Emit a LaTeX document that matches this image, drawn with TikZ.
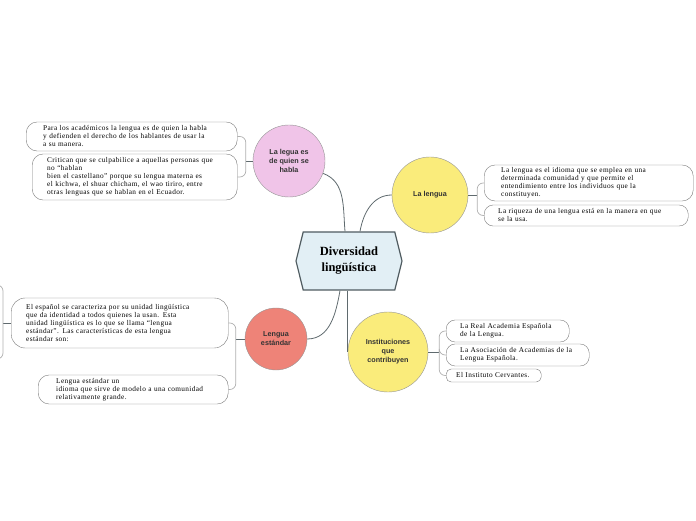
\documentclass[tikz,border=0pt]{standalone}
\usepackage{fontspec}
\setmainfont{Liberation Serif}
\setsansfont{Liberation Sans}
\newfontfamily\leaffont{Liberation Serif}[LetterSpace=5]
\usetikzlibrary{shapes.symbols}
\definecolor{hexfill}{HTML}{E2EFF5}
\definecolor{hexline}{HTML}{4F5B60}
\definecolor{pinkfill}{HTML}{F0C4E8}
\definecolor{yellowfill}{HTML}{FAEC7B}
\definecolor{salmonfill}{HTML}{EE8378}
\definecolor{linkgray}{HTML}{5F6A6E}
\definecolor{boxgray}{HTML}{7A7A7A}
\tikzset{
  topic/.style={circle, draw=boxgray!80, fill=#1, align=center, text=black!80,
    font=\sffamily\bfseries\fontsize{7.2}{9}\selectfont, inner sep=0pt},
  leaf/.style={draw=boxgray, fill=white, rounded corners=11pt, align=left, anchor=west,
    font=\leaffont\fontsize{7.3}{8}\selectfont, inner ysep=1pt},
  link/.style={draw=linkgray, line width=0.8pt},
  fork/.style={draw=boxgray!60, line width=0.7pt, rounded corners=6pt}
}
\begin{document}
\begin{tikzpicture}[x=1pt,y=1pt]
  \useasboundingbox (0,0) rectangle (696,520);

  % centre
  \node (hex) [shape=signal, signal to=west and east, signal pointer angle=152,
    draw=hexline, line width=1.2pt, fill=hexfill, minimum width=106pt, minimum height=58pt,
    align=center, font=\bfseries\fontsize{12.5}{16}\selectfont] at (349,259) {Diversidad\\lingüística};

  % main topics
  \node (habla) [topic=pinkfill, minimum size=72pt] at (289,359) {La legua es\\de quien se\\habla};
  \node (lengua) [topic=yellowfill, minimum size=76pt] at (430,325) {La lengua};
  \node (estandar) [topic=salmonfill, minimum size=62pt] at (276,181) {Lengua\\ estándar};
  \node (inst) [topic=yellowfill, minimum size=80pt] at (388,168) {Instituciones\\que\\contribuyen};

  \draw[link] (habla.-20) to[out=-20, in=95] ([xshift=-4pt]hex.north);
  \draw[link] ([xshift=11pt]hex.north) to[out=80, in=180] (lengua.west);
  \draw[link] ([xshift=-9pt]hex.south) to[out=-100, in=0] (estandar.east);
  \draw[link] (inst.west |- hex.south) -- (inst.west);

  % leaves of "La legua es de quien se habla"
  \node (p1) [leaf, minimum height=29pt, text width=177pt, inner xsep=17pt] at (26,383.5)
    {Para los académicos la lengua es de quien la habla\\y defienden el derecho de los hablantes de usar la\\a su manera.};
  \node (p2) [leaf, minimum height=46pt, text width=175pt, inner xsep=15pt] at (32,343)
    {Critican que se culpabilice a aquellas personas que\\no “hablan\\bien el castellano” porque su lengua materna es\\el kichwa, el shuar chicham, el wao tiriro, entre\\otras lenguas que se hablan en el Ecuador.};
  \draw[link] (habla.west) -- ++(-7,0) coordinate (hablafork);
  \draw[fork] (hablafork) |- (p1.east);
  \draw[fork] (hablafork) |- (p2.east);

  % leaves of "La lengua"
  \node (l1) [leaf, minimum height=36pt, text width=175pt, inner xsep=17pt] at (484,337)
    {La lengua es el idioma que se emplea en una\\determinada comunidad y que permite el\\entendimiento entre los individuos que la\\constituyen.};
  \node (l2) [leaf, minimum height=21pt, text width=176pt, inner xsep=14pt, rounded corners=9pt] at (484,304.5)
    {La riqueza de una lengua está en la manera en que\\se la usa.};
  \draw[link] (lengua.east) -- ++(9,0) coordinate (lenguafork);
  \draw[fork] (lenguafork) |- (l1.west);
  \draw[fork] (lenguafork) |- (l2.west);

  % leaves of "Lengua estándar"
  \node (e1) [leaf, minimum height=50pt, text width=187pt, inner xsep=15pt, rounded corners=14pt] at (11,197)
    {El español se caracteriza por su unidad lingüística\\que da identidad a todos quienes la usan. Esta\\unidad lingüística es lo que se llama “lengua\\estándar”. Las características de esta lengua\\estándar son:};
  \node (e2) [leaf, minimum height=29pt, text width=154pt, inner xsep=18pt] at (38,130.5)
    {Lengua estándar un\\idioma que sirve de modelo a una comunidad\\relativamente grande.};
  \draw[link] (estandar.west) -- ++(-9,0) coordinate (estandarfork);
  \draw[fork] (estandarfork) |- (e1.east);
  \draw[fork] (estandarfork) |- (e2.east);

  % children of the first leaf, outside the page
  \draw[link] (e1.west) -- ++(-8,0) coordinate (e1fork);
  \coordinate (e1top) at (-6,235);
  \coordinate (e1bottom) at (-6,161);
  \draw[fork] (e1top) -| (e1fork) |- (e1bottom);

  % leaves of "Instituciones que contribuyen"
  \node (i1) [leaf, minimum height=22pt, text width=95pt, inner xsep=14pt, rounded corners=9pt] at (446,189)
    {La Real Academia Española\\de la Lengua.};
  \node (i2) [leaf, minimum height=22pt, text width=115pt, inner xsep=14pt, rounded corners=9pt] at (446,165)
    {La Asociación de Academias de la\\Lengua Española.};
  \node (i3) [leaf, minimum height=13pt, text width=75pt, inner xsep=10pt, rounded corners=5pt] at (446,144.5)
    {El Instituto Cervantes.};
  \draw[link] (inst.east) -- ++(11,0) coordinate (instfork);
  \draw[fork] (instfork) |- (i1.west);
  \draw[fork] (instfork) |- (i2.west);
  \draw[fork] (instfork) |- (i3.west);
\end{tikzpicture}
\end{document}
